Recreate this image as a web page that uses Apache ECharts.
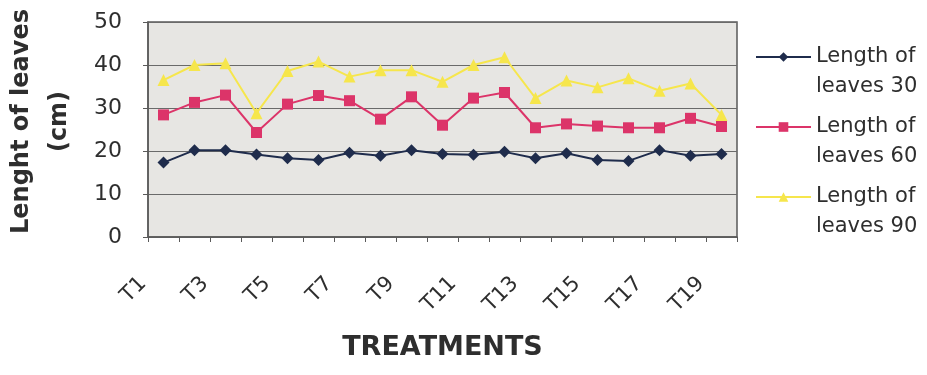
<!DOCTYPE html>
<html>
<head>
<meta charset="utf-8">
<script src="https://cdn.jsdelivr.net/npm/echarts@6/dist/echarts.min.js"></script>
<style>
  html, body { margin: 0; padding: 0; background: #fff; }
  #chart { width: 927px; height: 375px; }
</style>
</head>
<body>
<div id="chart"></div>
<script>
// Treatments on the category axis
const treatments = ['T1','T2','T3','T4','T5','T6','T7','T8','T9','T10',
                    'T11','T12','T13','T14','T15','T16','T17','T18','T19'];
// Leaf length (cm) at 30, 60 and 90 days
const leaves30 = [17.3, 20.2, 20.2, 19.2, 18.3, 17.9, 19.6, 18.9, 20.2, 19.3,
                  19.1, 19.8, 18.3, 19.5, 17.9, 17.7, 20.2, 18.9, 19.3];
const leaves60 = [28.4, 31.3, 33.0, 24.3, 30.9, 32.9, 31.7, 27.4, 32.6, 26.0,
                  32.3, 33.6, 25.4, 26.3, 25.8, 25.4, 25.4, 27.6, 25.7];
const leaves90 = [36.5, 40.0, 40.4, 28.8, 38.6, 40.8, 37.3, 38.8, 38.8, 36.1,
                  40.0, 41.8, 32.3, 36.4, 34.8, 36.9, 34.0, 35.7, 28.4];
const seriesNames = ['Length of\nleaves 30', 'Length of\nleaves 60', 'Length of\nleaves 90'];
const yTicks = { min: 0, max: 50, interval: 10 };

const FONT = 'DejaVu Sans';
const TEXT = '#2e2e2e';

const chart = echarts.init(document.getElementById('chart'), null, { renderer: 'canvas' });

function lineSeries(name, data, color, symbol, size) {
  return {
    name: name,
    type: 'line',
    data: data,
    symbol: symbol,
    symbolSize: size,
    lineStyle: { color: color, width: 2 },
    itemStyle: { color: color },
    emphasis: { disabled: true },
    animation: false
  };
}

chart.setOption({
  backgroundColor: '#ffffff',
  textStyle: { fontFamily: FONT },
  grid: {
    left: 148, right: 190, top: 22, bottom: 138,
    outerBoundsMode: 'none',
    show: true,
    backgroundColor: '#e7e6e3',
    borderColor: '#5a5a5a',
    borderWidth: 1.5
  },
  legend: {
    orient: 'vertical',
    left: 755,
    top: 12,
    padding: 0,
    itemWidth: 55,
    itemHeight: 12,
    itemGap: -20,
    selectedMode: false,
    // a leading blank line keeps the icon level with the first text line
    formatter: function (name) { return '\n' + name; },
    textStyle: {
      fontFamily: FONT,
      fontSize: 21,
      color: TEXT,
      lineHeight: 30
    },
    data: seriesNames
  },
  xAxis: {
    type: 'category',
    data: treatments,
    boundaryGap: true,
    name: 'TREATMENTS',
    nameLocation: 'middle',
    nameGap: 97,
    nameTextStyle: { fontFamily: FONT, fontSize: 27, fontWeight: 'bold', color: TEXT },
    axisLine: { show: true, lineStyle: { color: '#5a5a5a', width: 1.5 } },
    axisTick: { show: true, interval: 0, length: 5, lineStyle: { color: '#5a5a5a' } },
    axisLabel: {
      interval: 1,
      rotate: 45,
      margin: 23,
      padding: [0, 29, 0, 0],
      fontFamily: FONT,
      fontSize: 21,
      color: TEXT
    },
    splitLine: { show: false }
  },
  yAxis: {
    type: 'value',
    min: yTicks.min,
    max: yTicks.max,
    interval: yTicks.interval,
    name: 'Lenght of leaves\n(cm)',
    nameLocation: 'middle',
    nameRotate: 90,
    nameGap: 69,
    nameTextStyle: {
      fontFamily: FONT, fontSize: 24, fontWeight: 'bold', color: TEXT,
      lineHeight: 38, padding: [0, 0, 0, 16]
    },
    axisLine: { show: true, lineStyle: { color: '#5a5a5a', width: 1.5 } },
    axisTick: { show: true, length: 5, lineStyle: { color: '#5a5a5a' } },
    axisLabel: { margin: 26, fontFamily: FONT, fontSize: 22, color: TEXT },
    splitLine: { show: true, lineStyle: { color: '#6a6a6a', width: 1.2 } }
  },
  series: [
    lineSeries(seriesNames[0], leaves30, '#1f2c4c', 'diamond', 12),
    lineSeries(seriesNames[1], leaves60, '#dc3469', 'rect', 11),
    lineSeries(seriesNames[2], leaves90, '#f6e64c', 'triangle', 12)
  ]
});
</script>
</body>
</html>
